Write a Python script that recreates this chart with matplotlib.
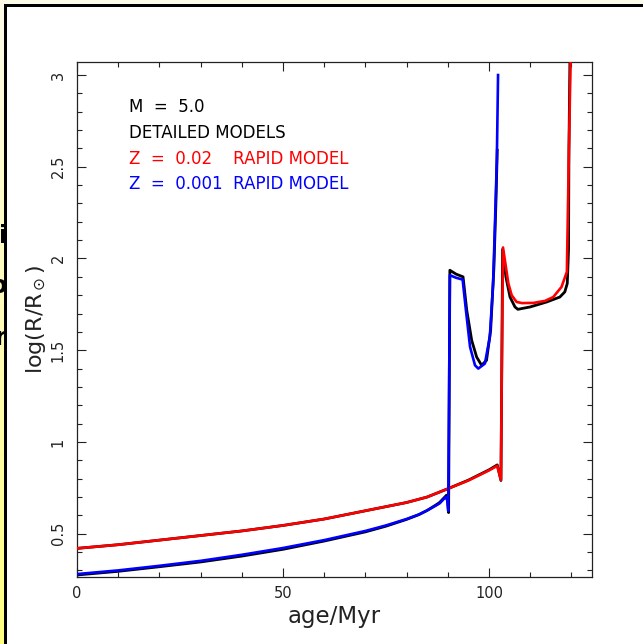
"""
log(R/Rsun) against age for an M = 5.0 star: detailed models vs rapid models.

Output: out.png
"""

import matplotlib
matplotlib.use("Agg")
import matplotlib.pyplot as plt
import numpy as np
from matplotlib.patches import Rectangle

# Z = 0.02 rapid model (red)
RED_AGE = [0, 10, 20, 30, 40, 50, 60, 70, 80, 85, 90, 95, 100, 102.0, 102.9,
           103.1, 103.4, 104.1, 104.7, 105.5, 106.7, 108.0, 110.8, 113.6,
           115.6, 117.6, 118.9, 119.4, 119.9]
RED_LOGR = [0.42, 0.44, 0.465, 0.49, 0.515, 0.545, 0.58, 0.625, 0.67, 0.70,
            0.745, 0.79, 0.845, 0.87, 0.793, 1.4, 2.06, 1.954, 1.864, 1.80,
            1.763, 1.757, 1.758, 1.769, 1.79, 1.845, 1.927, 2.59, 3.2]

# Z = 0.001 rapid model (blue)
BLUE_AGE = [0, 10, 20, 30, 40, 50, 60, 70, 75, 80, 83, 85, 87, 88, 89.5, 89.9,
            90.1, 90.3, 90.5, 92.0, 93.6, 94.4, 95.4, 96.6, 97.4, 99.0, 100.2,
            101.0, 101.5, 101.9, 102.2]
BLUE_LOGR = [0.28, 0.30, 0.325, 0.352, 0.385, 0.422, 0.465, 0.515, 0.545,
             0.58, 0.605, 0.627, 0.652, 0.665, 0.70, 0.68, 0.625, 1.2, 1.909,
             1.895, 1.885, 1.718, 1.518, 1.418, 1.40, 1.427, 1.572, 1.864,
             2.227, 2.536, 3.0]

# detailed model, Z = 0.02 (black)
DET02_AGE = [0, 10, 20, 30, 40, 50, 60, 70, 80, 85, 90, 95, 100, 102.0, 102.9,
             103.1, 103.3, 104.1, 105.1, 106.3, 107.0, 110.0, 114.0, 117.2,
             118.4, 119.0, 119.3, 119.4, 119.7]
DET02_LOGR = [0.42, 0.44, 0.465, 0.49, 0.515, 0.545, 0.58, 0.625, 0.67, 0.70,
              0.745, 0.792, 0.848, 0.875, 0.79, 1.4, 2.05, 1.90, 1.79, 1.736,
              1.723, 1.736, 1.763, 1.79, 1.818, 1.864, 2.045, 2.59, 3.2]

# detailed model, Z = 0.001 (black)
DET001_AGE = [0, 10, 20, 30, 40, 50, 60, 70, 75, 80, 83, 85, 87, 88, 89.7,
              90.0, 90.2, 90.35, 90.5, 92.0, 93.7, 94.6, 95.8, 97.0, 98.2,
              99.4, 100.4, 101.2, 101.7, 102.0]
DET001_LOGR = [0.275, 0.295, 0.32, 0.346, 0.378, 0.415, 0.46, 0.51, 0.541,
               0.578, 0.604, 0.627, 0.655, 0.67, 0.71, 0.67, 0.615, 1.3, 1.936,
               1.915, 1.90, 1.718, 1.554, 1.463, 1.418, 1.445, 1.609, 1.954,
               2.318, 2.59]

LABELS = ["M  =  5.0", "DETAILED MODELS", "Z  =  0.02    RAPID MODEL",
          "Z  =  0.001  RAPID MODEL"]
LABEL_COLORS = ["black", "black", "#ff0000", "#0000ff"]

W, H = 643, 644
INK = "#222222"


def draw_frame(fig):
    # cream page behind, yellow strip on the left, black-edged white panel
    fig.patch.set_facecolor("#fdfce8")
    grad = np.linspace(0, 1, 256).reshape(-1, 1)
    bg = fig.add_axes([0, 0, 5 / W, 1], zorder=-20)
    cmap = matplotlib.colors.LinearSegmentedColormap.from_list(
        "strip", ["#ffff80", "#fffbb8", "#fdfce8"])
    bg.imshow(grad, aspect="auto", cmap=cmap, origin="lower",
              extent=[0, 1, 0, 1])
    bg.axis("off")
    # bits of slide text peeking out on the left edge
    for y, s in [(236, "i"), (286, "o"), (338, "r")]:
        fig.text(7 / W, 1 - y / H, s, ha="right", va="center", fontsize=17,
                 fontweight="bold", color="black", zorder=-15)
    fig.add_artist(Rectangle((4 / W, 0), 1, 1 - 4 / H, transform=fig.transFigure,
                             facecolor="black", edgecolor="none", zorder=-10))
    fig.add_artist(Rectangle((7 / W, 0), 1, 1 - 7 / H, transform=fig.transFigure,
                             facecolor="white", edgecolor="none", zorder=-9))


def plot():
    fig = plt.figure(figsize=(W / 100, H / 100), dpi=100)
    draw_frame(fig)

    ax = fig.add_axes([77 / W, 1 - 577 / H, 515 / W, 515 / H])
    ax.set_facecolor("white")

    ax.plot(DET02_AGE, DET02_LOGR, color="black", lw=2.0, zorder=2)
    ax.plot(DET001_AGE, DET001_LOGR, color="black", lw=2.0, zorder=2)
    ax.plot(RED_AGE, RED_LOGR, color="#ff0000", lw=1.9, zorder=3)
    ax.plot(BLUE_AGE, BLUE_LOGR, color="#0000ff", lw=1.9, zorder=3)

    ax.set_xlim(0, 125)
    ax.set_ylim(0.264, 3.071)
    ax.set_xticks([0, 50, 100])
    ax.set_xticks(np.arange(0, 126, 10), minor=True)
    ax.set_yticks([0.5, 1, 1.5, 2, 2.5, 3])
    ax.set_yticks(np.arange(0.3, 3.05, 0.1), minor=True)
    ax.set_xticklabels(["0", "50", "100"])
    ax.set_yticklabels(["0.5", "1", "1.5", "2", "2.5", "3"])

    ax.tick_params(which="both", direction="in", top=True, right=True,
                   color=INK, width=0.8, labelcolor=INK, labelsize=10.5)
    ax.tick_params(which="major", length=6.5)
    ax.tick_params(which="minor", length=3.4)
    ax.tick_params(axis="x", pad=6.5)
    ax.tick_params(axis="y", pad=8)
    for lab in ax.get_yticklabels():
        lab.set_rotation(90)
        lab.set_va("center")
    for sp in ax.spines.values():
        sp.set_color(INK)
        sp.set_linewidth(0.9)

    ax.set_xlabel("age/Myr", fontsize=16.5, color=INK, va="center")
    ax.xaxis.set_label_coords(0.5, -(617 - 577) / 515)
    ax.set_ylabel(r"log(R/R$_\odot$)", fontsize=16, color=INK, va="center")
    ax.yaxis.set_label_coords(-(77 - 36) / 515, 0.5)

    ys = [107, 133, 159, 184]
    for txt, c, y in zip(LABELS, LABEL_COLORS, ys):
        ax.text((129 - 77) / 515, (577 - y) / 515, txt, color=c, fontsize=12,
                ha="left", va="center", transform=ax.transAxes)

    fig.savefig("out.png", dpi=100, facecolor=fig.get_facecolor())


if __name__ == "__main__":
    plot()
